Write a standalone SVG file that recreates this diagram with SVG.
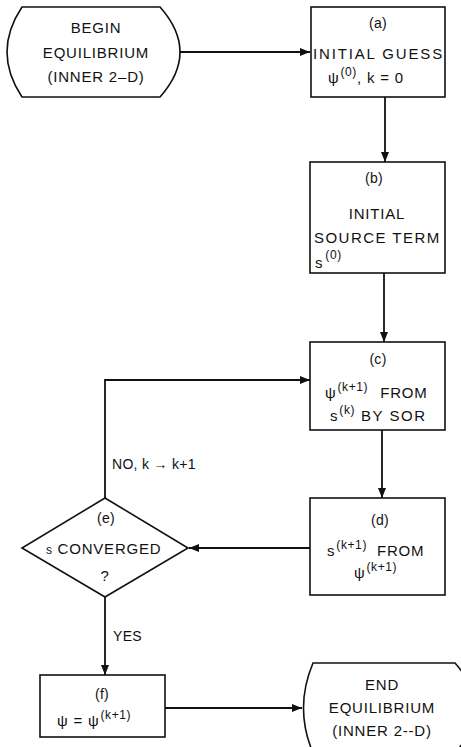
<svg xmlns="http://www.w3.org/2000/svg" width="461" height="747" viewBox="0 0 461 747">
<style>
.box{fill:#fff;stroke:#111;stroke-width:1.6}
.ln{fill:none;stroke:#111;stroke-width:1.8}
text{font-family:"Liberation Sans",Arial,sans-serif;font-size:15px;fill:#111;letter-spacing:0.8px}
.c{text-anchor:middle}
.sup{font-size:12px;letter-spacing:0.6px}
.lab{font-size:14px;letter-spacing:0.3px}
</style>
<defs>
<marker id="ah" viewBox="0 0 10 8" refX="10" refY="4" markerWidth="10" markerHeight="8" markerUnits="userSpaceOnUse" orient="auto">
<path d="M0,0 L10,4 L0,8 Z" fill="#111"/>
</marker>
</defs>
<rect width="461" height="747" fill="#fff"/>
<g id="connectors">
<path class="ln" d="M180,52 H310" marker-end="url(#ah)"/>
<path class="ln" d="M385,97 V162" marker-end="url(#ah)"/>
<path class="ln" d="M384,273 V342" marker-end="url(#ah)"/>
<path class="ln" d="M382,430 V498" marker-end="url(#ah)"/>
<path class="ln" d="M310,548 H189" marker-end="url(#ah)"/>
<path class="ln" d="M105,498 V380 H310" marker-end="url(#ah)"/>
<path class="ln" d="M105,597 V675" marker-end="url(#ah)"/>
<path class="ln" d="M165,708 H302" marker-end="url(#ah)"/>
<text class="lab" x="112" y="469">NO, k → k+1</text>
<text class="lab" x="113" y="641">YES</text>
</g>
<g id="begin">
<path class="box" d="M22,7 H160 Q200,52 160,97 H22 Q-8,52 22,7 Z"/>
<text class="c" x="96" y="33">BEGIN</text>
<text class="c" x="96" y="58">EQUILIBRIUM</text>
<text class="c" x="96" y="82">(INNER 2–D)</text>
</g>
<g id="a">
<rect class="box" x="311" y="7" width="134" height="90"/>
<text class="c lab" x="378" y="28">(a)</text>
<text class="c" x="378" y="59" textLength="130" lengthAdjust="spacing">INITIAL GUESS</text>
<text x="328" y="83">ψ<tspan class="sup" dx="1" dy="-7">(0)</tspan><tspan dy="7">, k = 0</tspan></text>
</g>
<g id="b">
<rect class="box" x="310" y="162" width="135" height="111"/>
<text class="c lab" x="374" y="183">(b)</text>
<text class="c" x="377" y="219">INITIAL</text>
<text class="c" x="377" y="243" textLength="126" lengthAdjust="spacing">SOURCE TERM</text>
<text x="315" y="268">s<tspan class="sup" dx="2" dy="-9">(0)</tspan></text>
</g>
<g id="c">
<rect class="box" x="310" y="342" width="135" height="88"/>
<text class="c lab" x="378" y="364">(c)</text>
<text x="325" y="398">ψ<tspan class="sup" dx="1" dy="-7">(k+1)</tspan><tspan dx="12" dy="7">FROM</tspan></text>
<text x="330" y="421">s<tspan class="sup" dx="1" dy="-7">(k)</tspan><tspan dx="6" dy="7" letter-spacing="1.5">BY SOR</tspan></text>
</g>
<g id="d">
<rect class="box" x="310" y="498" width="135" height="97"/>
<text class="c lab" x="380" y="525">(d)</text>
<text x="327" y="556">s<tspan class="sup" dx="1" dy="-7">(k+1)</tspan><tspan dx="10" dy="7">FROM</tspan></text>
<text x="354" y="578">ψ<tspan class="sup" dx="1" dy="-7">(k+1)</tspan></text>
</g>
<g id="e">
<path class="box" d="M105,498 L188,548 L105,597 L22,548 Z"/>
<text class="c lab" x="106" y="523">(e)</text>
<text x="46" y="554"><tspan class="sup">s</tspan> CONVERGED</text>
<text class="c" x="105" y="581">?</text>
</g>
<g id="f">
<rect class="box" x="40" y="675" width="125" height="62"/>
<text class="c lab" x="102" y="699">(f)</text>
<text x="57" y="726">ψ = ψ<tspan class="sup" dx="1" dy="-7">(k+1)</tspan></text>
</g>
<g id="end">
<path class="box" d="M313,663 H455 Q495,708 455,753 H313 Q294,708 313,663 Z"/>
<text class="c" x="382" y="690">END</text>
<text class="c" x="382" y="713">EQUILIBRIUM</text>
<text class="c" x="382" y="736">(INNER 2--D)</text>
</g>
</svg>
